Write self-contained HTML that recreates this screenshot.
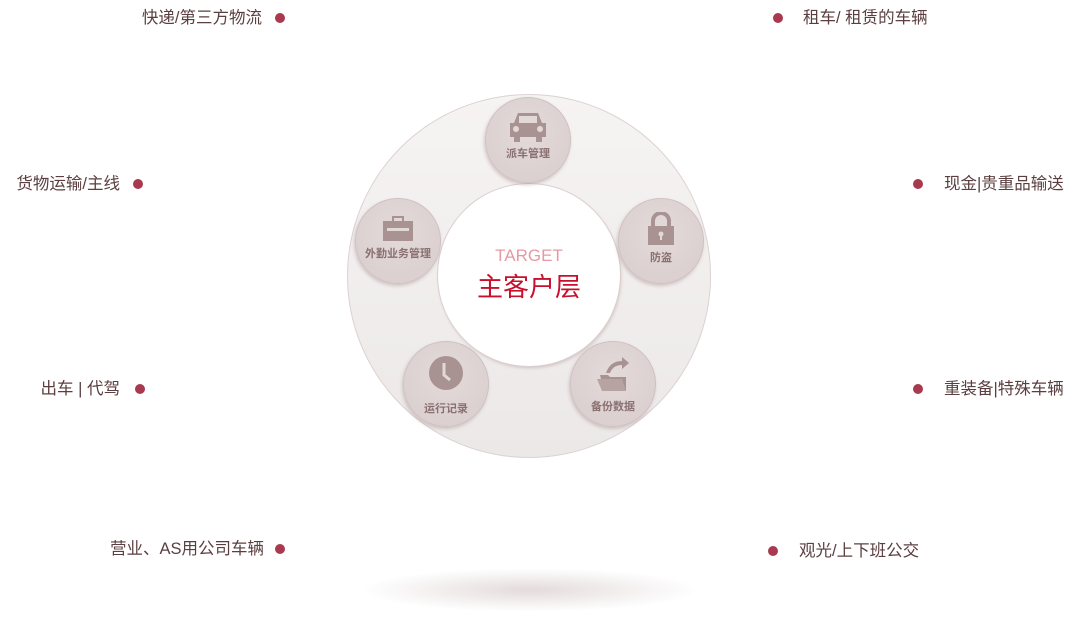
<!DOCTYPE html>
<html><head><meta charset="utf-8"><style>
body{margin:0;width:1086px;height:619px;background:#fff;position:relative;overflow:hidden;font-family:"Liberation Sans","Noto Sans CJK SC",sans-serif}
.l{position:absolute;font-size:16.5px;color:#5b3f40;white-space:nowrap;line-height:20px}
.d{position:absolute;width:10px;height:10px;border-radius:50%;background:#a8394f}
.c{position:absolute;border-radius:50%}
.s{position:absolute;width:86px;height:86px;border-radius:50%;background:radial-gradient(circle at 50% 40%,#e4dada,#d8cccc);box-shadow:inset 0 0 0 1px #d0c2c3,-1px 2px 3px rgba(150,120,120,.35);text-align:center;font-size:11px;color:#8a7070;font-weight:bold}
.s svg{display:block;margin:14px auto 0}
</style></head><body>
<div style="position:absolute;left:360px;top:568px;width:340px;height:44px;border-radius:50%;background:radial-gradient(ellipse at center,rgba(210,195,195,.6),rgba(255,255,255,0) 70%)"></div>
<div class="c" style="left:347px;top:94px;width:364px;height:364px;background:linear-gradient(#f6f3f3,#ece8e8);box-shadow:inset 0 0 0 1px #ddd2d3"></div>
<div class="c" style="left:438px;top:184px;width:182px;height:182px;background:#fff;box-shadow:0 0 0 1px #dccfd0,1px 2px 3px rgba(160,130,130,.4)"></div>
<div style="position:absolute;left:438px;top:246px;width:182px;text-align:center;font-size:17px;color:#e59aa3;line-height:20px">TARGET</div>
<div style="position:absolute;left:438px;top:270px;width:182px;text-align:center;font-size:26px;color:#c8102e;line-height:34px">主客户层</div>

<div class="s" style="left:485px;top:97px"><svg width="44" height="32" viewBox="0 0 44 32"><path d="M8 12 L12 2 H32 L36 12 H40 V26 H36 V31 H30 V26 H14 V31 H8 V26 H4 V12Z" fill="#a99292"/><rect x="13" y="5" width="18" height="7" fill="#e2d8d8"/><circle cx="10" cy="18" r="3" fill="#e2d8d8"/><circle cx="34" cy="18" r="3" fill="#e2d8d8"/></svg><div style="margin-top:2px">派车管理</div></div>
<div class="s" style="left:355px;top:198px"><svg width="32" height="26" viewBox="0 0 32 26" style="margin-top:18px"><rect x="1" y="5" width="30" height="20" fill="#a99292"/><rect x="11" y="1" width="10" height="5" fill="none" stroke="#a99292" stroke-width="2"/><rect x="5" y="12" width="22" height="3" fill="#e2d8d8"/></svg><div style="margin-top:3px">外勤业务管理</div></div>
<div class="s" style="left:618px;top:198px"><svg width="28" height="34" viewBox="0 0 28 34" style="margin-top:14px"><path d="M6 14 V9 a8 8 0 0 1 16 0 V14" fill="none" stroke="#a99292" stroke-width="4"/><rect x="1" y="14" width="26" height="19" fill="#a99292"/><circle cx="14" cy="22" r="2.5" fill="#e2d8d8"/><rect x="13" y="22" width="2" height="6" fill="#e2d8d8"/></svg><div style="margin-top:3px">防盗</div></div>
<div class="s" style="left:403px;top:341px"><svg width="36" height="36" viewBox="0 0 36 36"><circle cx="18" cy="18" r="17" fill="#a99292"/><path d="M16 8 V20 L22 25" fill="none" stroke="#e2d8d8" stroke-width="3"/></svg><div style="margin-top:9px">运行记录</div></div>
<div class="s" style="left:570px;top:341px"><svg width="34" height="38" viewBox="0 0 34 38"><path d="M10 18 Q14 6 26 6 V2 L33 8 L26 14 V10 Q17 10 14 18Z" fill="#a99292"/><path d="M4 20 H12 L14 22 H30 V36 H8Z" fill="#a99292"/><path d="M1 24 H26 L30 36 H6Z" fill="#b8a3a3"/></svg><div style="margin-top:5px">备份数据</div></div>

<div class="l" style="right:824px;top:8px">快递/第三方物流</div><div class="d" style="left:275px;top:13px"></div>
<div class="l" style="right:966px;top:174px">货物运输/主线</div><div class="d" style="left:133px;top:179px"></div>
<div class="l" style="right:966px;top:379px">出车 | 代驾</div><div class="d" style="left:135px;top:384px"></div>
<div class="l" style="right:822px;top:539px">营业、AS用公司车辆</div><div class="d" style="left:275px;top:544px"></div>

<div class="d" style="left:773px;top:13px"></div><div class="l" style="left:803px;top:8px">租车/ 租赁的车辆</div>
<div class="d" style="left:913px;top:179px"></div><div class="l" style="left:944px;top:174px">现金|贵重品输送</div>
<div class="d" style="left:913px;top:384px"></div><div class="l" style="left:944px;top:379px">重装备|特殊车辆</div>
<div class="d" style="left:768px;top:546px"></div><div class="l" style="left:799px;top:541px">观光/上下班公交</div>
</body></html>
